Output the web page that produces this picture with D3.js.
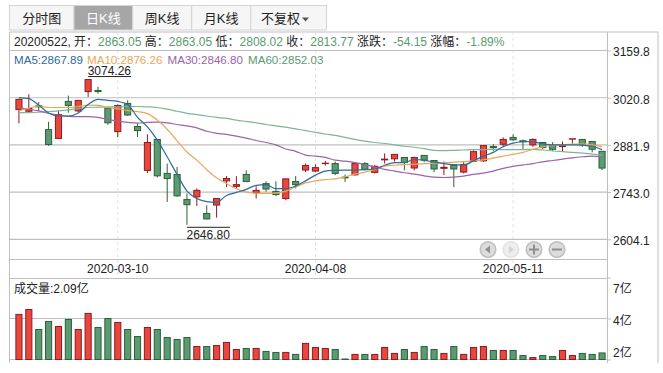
<!DOCTYPE html>
<html>
<head>
<meta charset="utf-8">
<script src="https://cdn.jsdelivr.net/npm/d3@7/dist/d3.min.js"></script>
<style>
html, body { margin: 0; padding: 0; background: #fff; }
svg { display: block; }
text { font-family: "Liberation Sans", "Noto Sans CJK SC", sans-serif; font-size: 12px; fill: #222; }
</style>
</head>
<body>
<script>
var dates = [
  "2020-02-25","2020-02-26","2020-02-27","2020-02-28","2020-03-02","2020-03-03","2020-03-04","2020-03-05","2020-03-06","2020-03-09",
  "2020-03-10","2020-03-11","2020-03-12","2020-03-13","2020-03-16","2020-03-17","2020-03-18","2020-03-19","2020-03-20","2020-03-23",
  "2020-03-24","2020-03-25","2020-03-26","2020-03-27","2020-03-30","2020-03-31","2020-04-01","2020-04-02","2020-04-03","2020-04-07",
  "2020-04-08","2020-04-09","2020-04-10","2020-04-13","2020-04-14","2020-04-15","2020-04-16","2020-04-17","2020-04-20","2020-04-21",
  "2020-04-22","2020-04-23","2020-04-24","2020-04-27","2020-04-28","2020-04-29","2020-04-30","2020-05-06","2020-05-07","2020-05-08",
  "2020-05-11","2020-05-12","2020-05-13","2020-05-14","2020-05-15","2020-05-18","2020-05-19","2020-05-20","2020-05-21","2020-05-22"];

var opens = [
  2986, 2981, 2997, 2927, 2901, 3010, 2982, 3039, 3042, 2990,
  2921, 3004, 2936, 2807, 2898, 2798, 2795, 2721, 2729, 2680,
  2705, 2776, 2760, 2795, 2741, 2768, 2745, 2724, 2774, 2808,
  2805, 2827, 2827, 2787, 2794, 2827, 2801, 2838, 2841, 2845,
  2814, 2851, 2836, 2813, 2822, 2802, 2834, 2835, 2877, 2884,
  2904, 2894, 2882, 2889, 2881, 2877, 2899, 2898, 2892, 2863.05];
var closes = [
  3016, 2989, 2994, 2883, 2971, 2998, 3013, 3074.26, 3039, 2947,
  2998, 2970, 2924, 2889, 2791, 2783, 2732, 2706, 2748, 2664,
  2724, 2783, 2765, 2774, 2748, 2752, 2736, 2782, 2765, 2821,
  2815, 2828, 2798, 2785, 2827, 2810, 2819, 2840, 2854, 2830,
  2845, 2837, 2811, 2816, 2811, 2824, 2862, 2880, 2874, 2898,
  2897, 2891, 2898, 2874, 2869, 2879, 2900, 2884, 2869, 2813.77];
var highs = [
  3018, 3031, 3008, 2950, 2982, 3027, 3014, 3074.26, 3053, 2990,
  3001, 3013, 2945, 2913, 2898, 2827, 2817, 2739, 2754, 2704,
  2725, 2790, 2790, 2807, 2760, 2775, 2775, 2782, 2790, 2827,
  2825, 2835, 2833, 2795, 2828, 2831, 2823, 2857, 2854, 2845,
  2847, 2851, 2836, 2833, 2822, 2833, 2866, 2880, 2884, 2904,
  2913, 2898, 2901, 2889, 2890, 2892, 2900, 2898, 2892, 2863.05];
var lows = [
  2945, 2976, 2982, 2879, 2900, 2977, 2979, 3023, 3033, 2941,
  2905, 2967, 2905, 2799, 2786, 2714, 2729, 2646.8, 2702, 2663,
  2668, 2758, 2754, 2773, 2724, 2744, 2731, 2719, 2754, 2802,
  2802, 2821, 2793, 2773, 2791, 2807, 2798, 2827, 2833, 2807,
  2807, 2831, 2802, 2793, 2758, 2798, 2831, 2832, 2864, 2878,
  2894, 2870, 2876, 2869, 2864, 2862, 2886, 2876, 2860, 2808.02];
var volumes = [
  4.44, 4.74, 3.52, 4.01, 3.70, 4.13, 3.52, 4.50, 3.64, 4.19,
  3.95, 3.52, 3.09, 3.64, 3.52, 3.03, 2.91, 3.03, 2.48, 2.48,
  2.54, 2.73, 2.30, 2.36, 2.36, 2.18, 2.12, 2.12, 2.00, 2.67,
  2.42, 2.36, 2.30, 1.72, 2.00, 2.00, 2.00, 2.42, 2.06, 2.30,
  2.12, 2.48, 2.30, 2.06, 2.48, 2.00, 2.42, 2.48, 2.24, 2.24,
  2.24, 1.93, 1.81, 1.93, 1.87, 2.24, 1.93, 2.06, 2.00, 2.09];

var ma5 = [
  3021, 3018, 2999, 2976, 2967, 2967, 2976, 3001, 3016, 3013,
  3010, 3001, 2963, 2935, 2896, 2847, 2795, 2746, 2724, 2715,
  2713, 2733, 2742, 2751, 2763, 2765, 2753, 2753, 2761, 2776,
  2793, 2805, 2807, 2808, 2808, 2809, 2811, 2822, 2830, 2830,
  2839, 2837, 2831, 2827, 2824, 2823, 2835, 2849, 2860, 2877,
  2887, 2892, 2891, 2885, 2882, 2882, 2882, 2881, 2878, 2867.89];
var ma10 = [
  2982, 2990, 2996, 2992, 2992, 2992, 2995, 2999, 2998, 2992,
  2988, 2983, 2980, 2974, 2955, 2928, 2894, 2861, 2837, 2809,
  2785, 2768, 2753, 2743, 2740, 2739, 2740, 2746, 2758, 2770,
  2776, 2780, 2782, 2788, 2796, 2802, 2810, 2819, 2822, 2824,
  2825, 2827, 2828, 2829, 2831, 2833, 2835, 2838, 2843, 2849,
  2854, 2860, 2869, 2876, 2880, 2883, 2884, 2885, 2882, 2876.26];
var ma30 = [
  2991, 2987, 2982, 2975, 2969, 2966, 2965, 2965, 2963, 2957,
  2952, 2948, 2946, 2948, 2949, 2947, 2942, 2938, 2932, 2922,
  2916, 2913, 2908, 2902, 2895, 2889, 2882, 2870, 2863, 2852,
  2849, 2845, 2837, 2834, 2830, 2824, 2817, 2810, 2805, 2800,
  2796, 2791, 2787, 2786, 2787, 2790, 2795, 2799, 2805, 2813,
  2819, 2823, 2827, 2832, 2836, 2840, 2844, 2847, 2849, 2846.80];
var ma60 = [
  2977, 2977, 2978, 2980, 2982, 2985, 2989, 2992, 2993, 2994,
  2994, 2995, 2995, 2994, 2992, 2987, 2981, 2975, 2971, 2967,
  2963, 2960, 2955, 2951, 2947, 2942, 2938, 2934, 2929, 2924,
  2919, 2914, 2910, 2904, 2898, 2893, 2889, 2886, 2882, 2878,
  2875, 2871, 2866, 2865, 2866, 2867, 2868, 2868, 2869, 2868,
  2868, 2868, 2869, 2867, 2864, 2862, 2860, 2858, 2855, 2852.03];

var priceTicks = [3159.8, 3020.8, 2881.9, 2743.0, 2604.1];
var volumeTicks = [6.69, 4.19, 1.69];
var dateTicks = ["2020-03-10", "2020-04-08", "2020-05-11"];
var tabs = ["分时图", "日K线", "周K线", "月K线", "不复权"];
var tabEdges = [9.5, 74, 132.7, 191.7, 250.7, 326.5];

var red = "#e8473d", redDark = "#8f1a20";
var green = "#5b9a72", greenDark = "#2a6236";
var gridColor = "#bfbfbf";

var w = 663, h = 373;
var plotLeft = 9.5, plotRight = 607.5, frameRight = 658;

var svg = d3.select("body").append("svg")
    .attr("width", w)
    .attr("height", h);

var x = d3.scaleBand()
    .domain(dates)
    .range([14, 607])
    .paddingInner(0.28)
    .paddingOuter(0.14);

var y = d3.scaleLinear()
    .domain([2604.1, 3159.8])
    .range([239.3, 50.5]);

var yVol = d3.scaleLinear()
    .domain([1.69, 6.69])
    .range([359.5, 277.5]);

function cx(d) { return x(d) + x.bandwidth() / 2; }
function isUp(i) { return closes[i] >= opens[i]; }

// tabs
var tab = svg.append("g").selectAll("g").data(tabs).enter().append("g");
tab.append("rect")
    .attr("x", function(d, i) { return tabEdges[i]; })
    .attr("y", 5.5)
    .attr("width", function(d, i) { return tabEdges[i + 1] - tabEdges[i]; })
    .attr("height", 24.5)
    .attr("fill", function(d, i) { return i == 1 ? "#a6a6a6" : "#f6f6f6"; })
    .attr("stroke", "#d4d4d4");
tab.append("text")
    .attr("x", function(d, i) { return (tabEdges[i] + tabEdges[i + 1]) / 2 - (i == 4 ? 8 : 0); })
    .attr("y", 23)
    .attr("text-anchor", "middle")
    .style("font-size", "13px")
    .style("fill", function(d, i) { return i == 1 ? "#fff" : "#222"; })
    .text(function(d) { return d; });
svg.append("path")
    .attr("d", d3.line()([[302, 17.5], [309, 17.5], [305.5, 21.5]]))
    .attr("fill", "#555");

// frame
var frame = svg.append("g").attr("stroke", gridColor).attr("fill", "none");
frame.append("path").attr("d", "M" + plotLeft + ",363V32H" + frameRight + "V363");
frame.append("path").attr("d", "M" + plotRight + ",32V363");
frame.append("path").attr("d", "M" + plotLeft + ",259.5H" + plotRight);
frame.append("path").attr("d", "M" + plotLeft + ",278.5H" + plotRight);

// date guide lines
svg.append("g").selectAll("line").data(dateTicks).enter().append("line")
    .attr("x1", cx).attr("x2", cx)
    .attr("y1", 32).attr("y2", 278)
    .attr("stroke", "#e2e2e2")
    .attr("stroke-dasharray", "3,3");

// price axis
var axisY = svg.append("g")
    .attr("transform", "translate(" + plotRight + ",0)")
    .call(d3.axisRight(y).tickValues(priceTicks).tickSize(3.5).tickPadding(2).tickFormat(d3.format(".1f")));
axisY.select(".domain").remove();
axisY.selectAll("line").attr("stroke", gridColor);
axisY.selectAll("text").style("font-size", "12px").attr("dy", "0.45em");

svg.append("g").selectAll("line").data(priceTicks).enter().append("line")
    .attr("x1", plotLeft).attr("x2", plotRight)
    .attr("y1", y).attr("y2", y)
    .attr("stroke", gridColor)
    .attr("stroke-width", 1.2);

// volume axis, top and bottom labels stay inside the pane
var axisV = svg.append("g")
    .attr("transform", "translate(" + plotRight + ",0)")
    .call(d3.axisRight(yVol).tickValues(volumeTicks).tickSize(3.5).tickPadding(2)
      .tickFormat(function(d) { return Math.round(d) + "亿"; }));
axisV.select(".domain").remove();
axisV.selectAll("line").attr("stroke", gridColor);
axisV.selectAll("text")
    .style("font-size", "12px")
    .attr("dy", function(d, i) { return ["14.5", "5.5", "-3.5"][i]; });

svg.append("g").selectAll("line").data(volumeTicks.slice(1)).enter().append("line")
    .attr("x1", plotLeft).attr("x2", plotRight)
    .attr("y1", yVol).attr("y2", yVol)
    .attr("stroke", gridColor)
    .attr("stroke-width", 1.2);

// date axis
var axisX = svg.append("g")
    .attr("transform", "translate(0,259.5)")
    .call(d3.axisBottom(x).tickValues(dateTicks).tickSize(0).tickPadding(5));
axisX.select(".domain").remove();
axisX.selectAll("text").style("font-size", "12px");

// candles
var candle = svg.append("g").selectAll("g").data(dates).enter().append("g");
candle.append("line")
    .attr("x1", cx).attr("x2", cx)
    .attr("y1", function(d, i) { return y(highs[i]); })
    .attr("y2", function(d, i) { return y(lows[i]); })
    .attr("stroke", function(d, i) { return isUp(i) ? redDark : greenDark; });
candle.append("rect")
    .attr("x", function(d) { return x(d) + 0.5; })
    .attr("width", x.bandwidth() - 1)
    .attr("y", function(d, i) { return y(Math.max(opens[i], closes[i])); })
    .attr("height", function(d, i) { return Math.abs(y(opens[i]) - y(closes[i])); })
    .attr("fill", function(d, i) { return isUp(i) ? red : green; })
    .attr("stroke", function(d, i) { return isUp(i) ? redDark : greenDark; });

// moving averages
var maLine = d3.line()
    .x(function(d, i) { return cx(dates[i]); })
    .y(function(d) { return y(d); })
    .curve(d3.curveMonotoneX);

var maSeries = [
  {name: "MA60", values: ma60, color: "#7fb596", label: 248},
  {name: "MA30", values: ma30, color: "#9a64a8", label: 167.5},
  {name: "MA10", values: ma10, color: "#e9a75a", label: 87},
  {name: "MA5", values: ma5, color: "#2f6a9c", label: 14}
];
svg.append("g").selectAll("path").data(maSeries).enter().append("path")
    .attr("d", function(d) { return maLine(d.values); })
    .attr("fill", "none")
    .attr("stroke", function(d) { return d.color; })
    .attr("stroke-width", 1.2);

// volume bars
svg.append("g").selectAll("rect").data(dates).enter().append("rect")
    .attr("x", function(d) { return x(d) + 0.5; })
    .attr("width", x.bandwidth() - 1)
    .attr("y", function(d, i) { return yVol(volumes[i]); })
    .attr("height", function(d, i) { return yVol(yVol.domain()[0]) - yVol(volumes[i]); })
    .attr("fill", function(d, i) { return isUp(i) ? red : green; })
    .attr("stroke", function(d, i) { return isUp(i) ? redDark : greenDark; });

// high / low marks
var iHigh = d3.maxIndex(highs), iLow = d3.minIndex(lows);
svg.append("line")
    .attr("x1", cx(dates[iHigh])).attr("x2", cx(dates[iHigh]) + 43)
    .attr("y1", y(highs[iHigh]) - 3).attr("y2", y(highs[iHigh]) - 3)
    .attr("stroke", "#222");
svg.append("text")
    .attr("x", cx(dates[iHigh]) - 0.5).attr("y", y(highs[iHigh]) - 4.5)
    .text(d3.format(".2f")(highs[iHigh]));
svg.append("line")
    .attr("x1", cx(dates[iLow])).attr("x2", cx(dates[iLow]) + 43)
    .attr("y1", y(lows[iLow]) + 2.5).attr("y2", y(lows[iLow]) + 2.5)
    .attr("stroke", "#222");
svg.append("text")
    .attr("x", cx(dates[iLow]) - 0.5).attr("y", y(lows[iLow]) + 14)
    .text(d3.format(".2f")(lows[iLow]));

// info row
var last = dates.length - 1;
var f2 = d3.format(".2f");
var infoRow = [
  ["20200522, 开：", "#222"], [f2(opens[last]), green], [" 高：", "#222"], [f2(highs[last]), green],
  [" 低：", "#222"], [f2(lows[last]), green], [" 收：", "#222"], [f2(closes[last]), green],
  [" 涨跌：", "#222"], ["-54.15", green], [" 涨幅：", "#222"], ["-1.89%", green]
];
svg.append("text")
    .attr("x", 14).attr("y", 46)
    .attr("xml:space", "preserve")
    .selectAll("tspan").data(infoRow).enter().append("tspan")
    .style("fill", function(d) { return d[1]; })
    .text(function(d) { return d[0]; });

svg.append("g").selectAll("text").data(maSeries).enter().append("text")
    .attr("x", function(d) { return d.label; })
    .attr("y", 63.5)
    .style("font-size", "11.6px")
    .style("fill", function(d) { return d.name == "MA60" ? green : d.color; })
    .text(function(d) { return d.name + ":" + f2(d.values[last]); });

svg.append("text")
    .attr("x", 14).attr("y", 292.5)
    .text("成交量:" + volumes[last] + "亿");

// nav buttons
var navX = [488, 511, 534, 557];
var nav = svg.append("g").selectAll("g").data(navX).enter().append("g")
    .attr("transform", function(d) { return "translate(" + d + ",249.5)"; });
nav.append("circle")
    .attr("r", 7.8)
    .attr("fill", function(d, i) { return i == 1 ? "#eeeeee" : "#dcdcdc"; })
    .attr("stroke", function(d, i) { return i == 1 ? "#e2e2e2" : "#bdbdbd"; })
    .attr("stroke-width", 1.5);
nav.append("path")
    .attr("d", function(d, i) {
      return ["M2,-4V4L-3,0Z", "M-2,-4V4L3,0Z", "M-5,-1H-1V-5H1V-1H5V1H1V5H-1V1H-5Z", "M-5,-1H5V1H-5Z"][i];
    })
    .attr("fill", function(d, i) { return i == 1 ? "#d5d5d5" : "#8f8f8f"; });
</script>
</body>
</html>
